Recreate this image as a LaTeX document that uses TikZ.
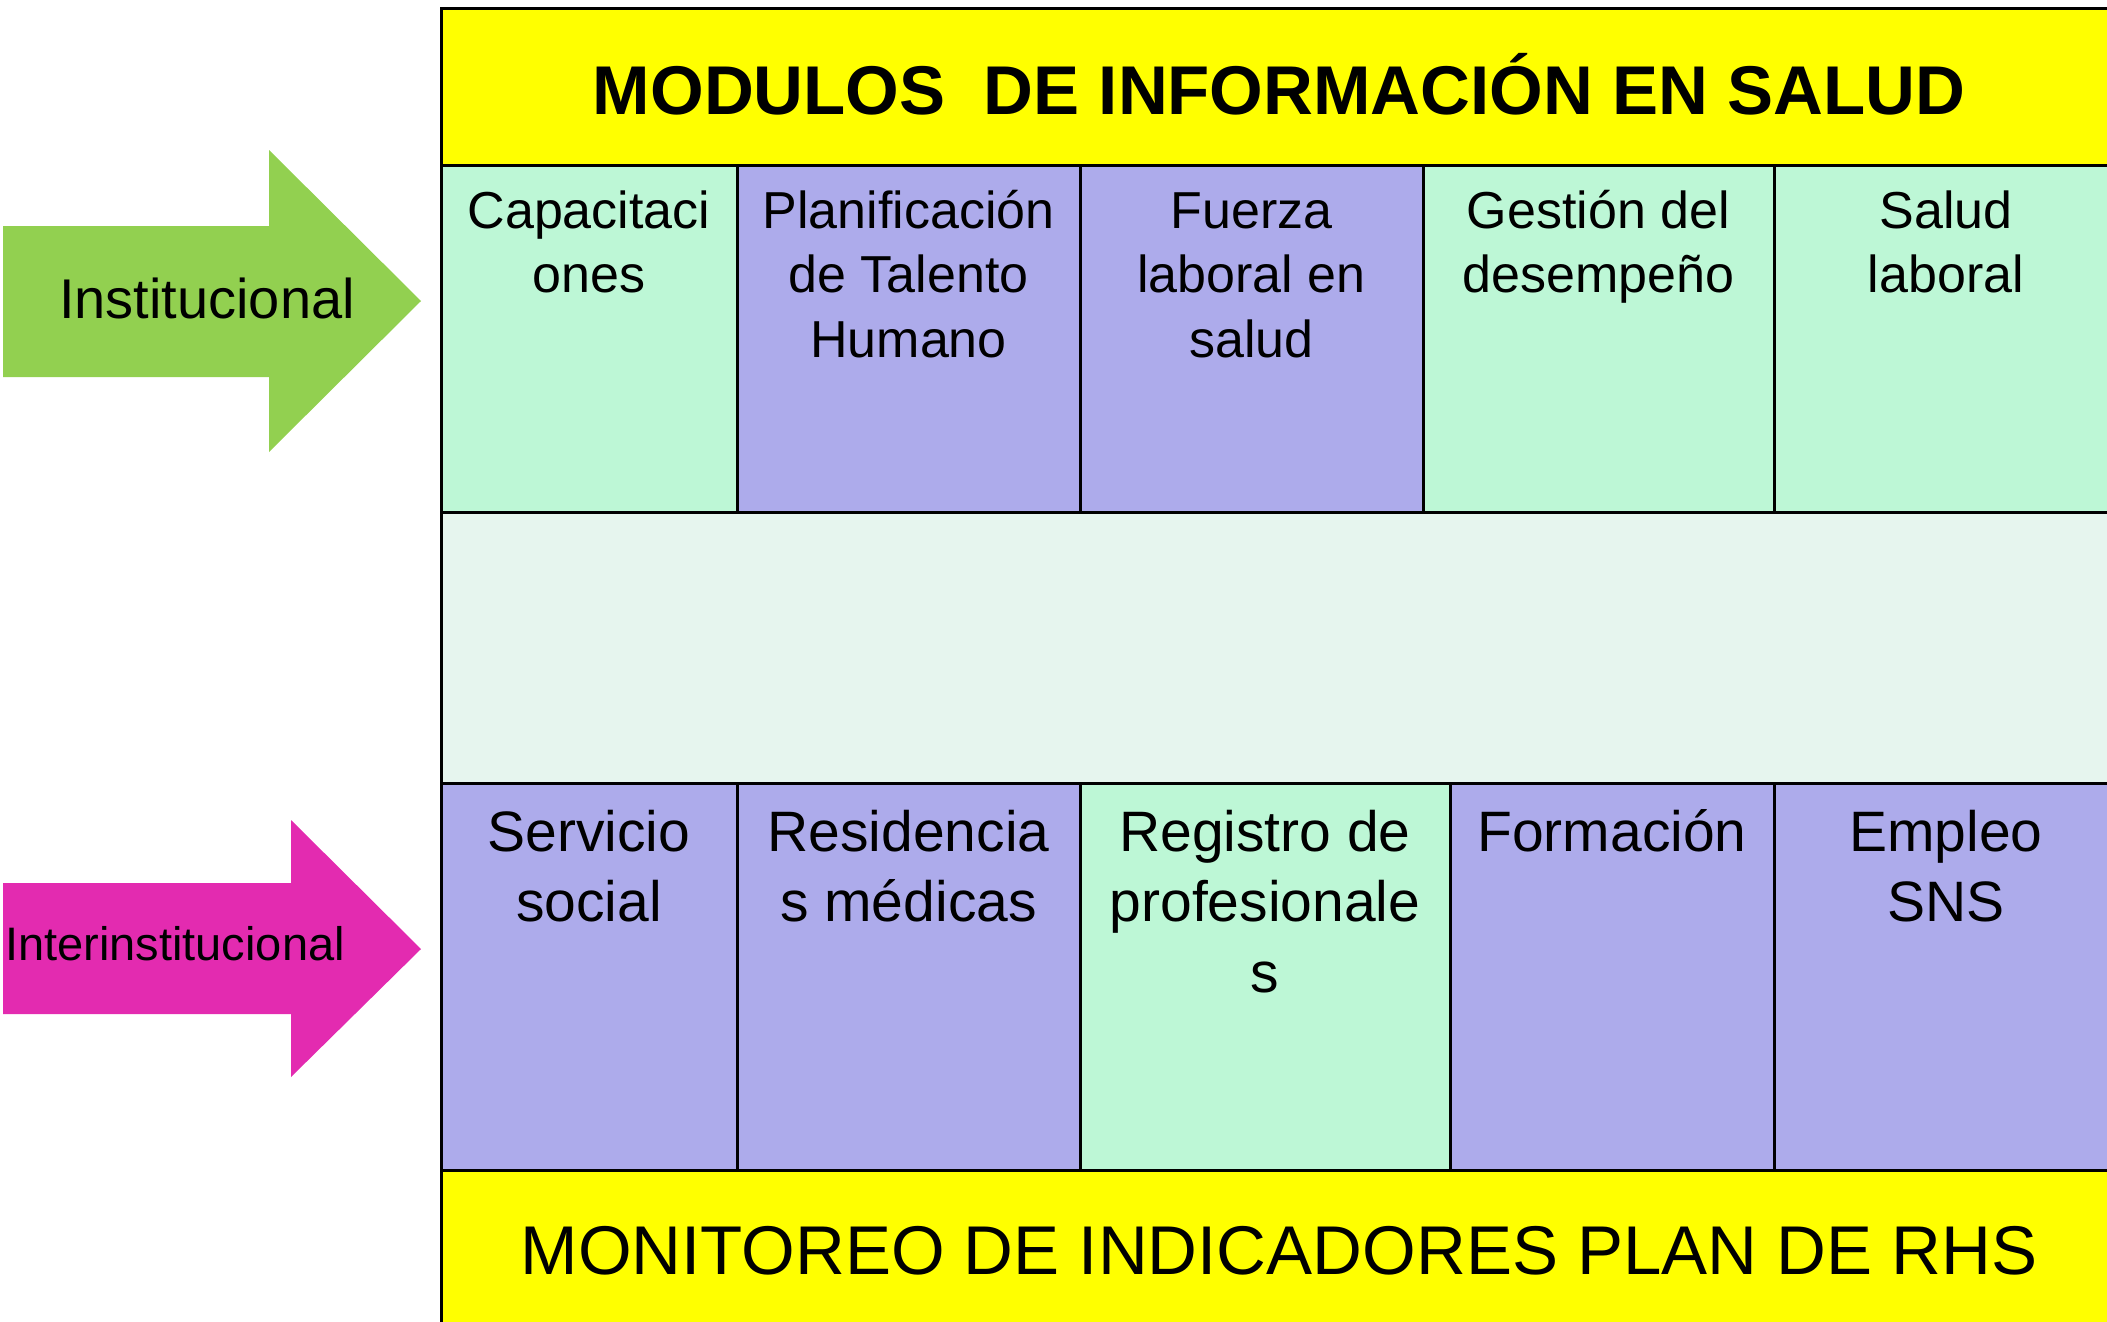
\documentclass[tikz,border=0pt]{standalone}
\usepackage{fontspec}
\setmainfont{Liberation Sans}
\definecolor{hdryellow}{HTML}{FFFF00}
\definecolor{mint}{HTML}{BDF7D6}
\definecolor{lavender}{HTML}{ADABEB}
\definecolor{band}{HTML}{E6F5EE}
\definecolor{arrgreen}{HTML}{92D050}
\definecolor{arrmagenta}{HTML}{E32BB0}
\tikzset{
  cellbox/.style={draw=black, line width=3pt},
  celltext/.style={anchor=north, inner sep=0pt, align=center, font=\fontsize{52}{64.5}\selectfont},
  celltextb/.style={anchor=north, inner sep=0pt, align=center, font=\fontsize{57}{70.5}\selectfont},
}
\newcommand{\topstrut}{\rule{0pt}{42pt}}
\newcommand{\botstrut}{\rule{0pt}{46pt}}
\begin{document}
\begin{tikzpicture}[x=1pt,y=-1pt]
\useasboundingbox (0,0) rectangle (2107,1322);
\clip (0,0) rectangle (2107,1322);
% header
\path[cellbox, fill=hdryellow] (441,9) rectangle (2115,165);
\node[anchor=base, inner sep=0pt, font=\bfseries\fontsize{69}{84}\selectfont] (title) at (1279,114) {MODULOS\ \ DE INFORMACIÓN EN SALUD};
% top row
\path[cellbox, fill=mint] (441,165) rectangle (737,512);
\path[cellbox, fill=lavender] (737,165) rectangle (1080,512);
\path[cellbox, fill=lavender] (1080,165) rectangle (1423,512);
\path[cellbox, fill=mint] (1423,165) rectangle (1774,512);
\path[cellbox, fill=mint] (1774,165) rectangle (2115,512);
\node[celltext] (t1) at (589,186) {\topstrut Capacitaci\\ones};
\node[celltext] (t2) at (908.5,186) {\topstrut Planificación\\de Talento\\Humano};
\node[celltext] (t3) at (1251.5,186) {\topstrut Fuerza\\laboral en\\salud};
\node[celltext] (t4) at (1598.5,186) {\topstrut Gestión del\\desempeño};
\node[celltext] (t5) at (1946,186) {\topstrut Salud\\laboral};
% middle band
\path[cellbox, fill=band] (441,512) rectangle (2115,783);
% bottom row
\path[cellbox, fill=lavender] (441,783) rectangle (737,1170);
\path[cellbox, fill=lavender] (737,783) rectangle (1080,1170);
\path[cellbox, fill=mint] (1080,783) rectangle (1450,1170);
\path[cellbox, fill=lavender] (1450,783) rectangle (1774,1170);
\path[cellbox, fill=lavender] (1774,783) rectangle (2115,1170);
\node[celltextb] (b1) at (589,805) {\botstrut Servicio\\social};
\node[celltextb] (b2) at (908.5,805) {\botstrut Residencia\\s médicas};
\node[celltextb] (b3) at (1265,805) {\botstrut Registro de\\profesionale\\s};
\node[celltextb] (b4) at (1612,805) {\botstrut Formación};
\node[celltextb] (b5) at (1946,805) {\botstrut Empleo\\SNS};
% footer
\path[cellbox, fill=hdryellow] (441,1170) rectangle (2115,1340);
\node[anchor=base, inner sep=0pt, font=\fontsize{69}{84}\selectfont] (foot) at (1279,1274.5) {MONITOREO DE INDICADORES PLAN DE RHS};
% arrows
\fill[arrgreen] (3,226) -- (269,226) -- (269,150) -- (421,301) -- (269,452) -- (269,377) -- (3,377) -- cycle;
\node[anchor=base, inner sep=0pt, font=\fontsize{56}{67}\selectfont] (inst) at (207,318) {Institucional};
\fill[arrmagenta] (3,883) -- (291,883) -- (291,820) -- (421,949) -- (291,1077) -- (291,1014) -- (3,1014) -- cycle;
\node[anchor=base, inner sep=0pt, font=\fontsize{47}{56}\selectfont] (inter) at (175,960) {Interinstitucional};
\end{tikzpicture}
\end{document}
